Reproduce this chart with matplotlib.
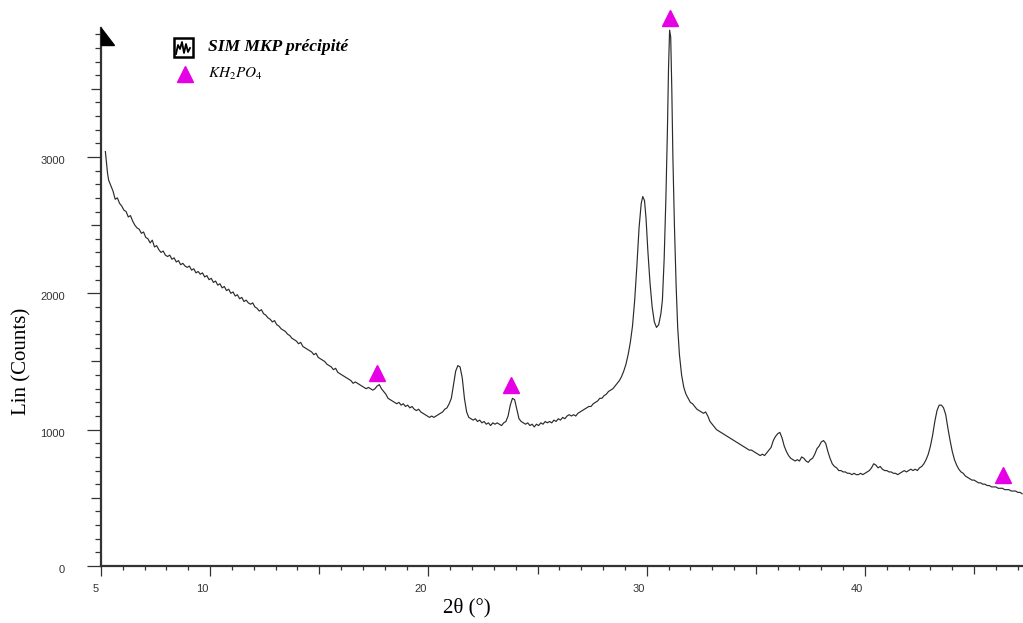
import matplotlib
matplotlib.use("Agg")
import matplotlib.pyplot as plt
from matplotlib.patches import Polygon, Rectangle
from matplotlib.lines import Line2D
from matplotlib.transforms import ScaledTranslation

plt.rcParams["mathtext.fontset"] = "stix"

# XRD pattern: 2theta (deg)
two_theta = [
    5.20, 5.25, 5.30, 5.35, 5.45, 5.55, 5.65, 5.75, 5.85, 5.95, 6.05, 6.15,
    6.25, 6.35, 6.45, 6.55, 6.65, 6.75, 6.85, 6.95, 7.05, 7.15, 7.25, 7.35,
    7.45, 7.55, 7.65, 7.75, 7.85, 7.95, 8.05, 8.15, 8.25, 8.35, 8.45, 8.55,
    8.65, 8.75, 8.85, 8.95, 9.05, 9.15, 9.25, 9.35, 9.45, 9.55, 9.65, 9.75,
    9.85, 9.95, 10.05, 10.15, 10.25, 10.35, 10.45, 10.55, 10.65, 10.75,
    10.85, 10.95, 11.05, 11.15, 11.25, 11.35, 11.45, 11.55, 11.65, 11.75,
    11.85, 11.95, 12.05, 12.15, 12.25, 12.35, 12.45, 12.55, 12.65, 12.75,
    12.85, 12.95, 13.05, 13.15, 13.25, 13.35, 13.45, 13.55, 13.65, 13.75,
    13.85, 13.95, 14.05, 14.15, 14.25, 14.35, 14.45, 14.55, 14.65, 14.75,
    14.85, 14.95, 15.05, 15.15, 15.25, 15.35, 15.45, 15.55, 15.65, 15.75,
    15.85, 15.95, 16.05, 16.15, 16.25, 16.35, 16.45, 16.55, 16.65, 16.75,
    16.85, 16.95, 17.05, 17.15, 17.25, 17.35, 17.45, 17.55, 17.65, 17.75,
    17.85, 17.95, 18.05, 18.15, 18.25, 18.35, 18.45, 18.55, 18.65, 18.75,
    18.85, 18.95, 19.05, 19.15, 19.25, 19.35, 19.45, 19.55, 19.65, 19.75,
    19.85, 19.95, 20.05, 20.15, 20.25, 20.35, 20.45, 20.55, 20.65, 20.75,
    20.85, 20.95, 21.05, 21.15, 21.25, 21.35, 21.45, 21.55, 21.65, 21.75,
    21.85, 21.95, 22.05, 22.15, 22.25, 22.35, 22.45, 22.55, 22.65, 22.75,
    22.85, 22.95, 23.05, 23.15, 23.25, 23.35, 23.45, 23.55, 23.65, 23.75,
    23.85, 23.95, 24.05, 24.15, 24.25, 24.35, 24.45, 24.55, 24.65, 24.75,
    24.85, 24.95, 25.05, 25.15, 25.25, 25.35, 25.45, 25.55, 25.65, 25.75,
    25.85, 25.95, 26.05, 26.15, 26.25, 26.35, 26.45, 26.55, 26.65, 26.75,
    26.85, 26.95, 27.05, 27.15, 27.25, 27.35, 27.45, 27.55, 27.65, 27.75,
    27.85, 27.95, 28.05, 28.15, 28.25, 28.35, 28.45, 28.55, 28.65, 28.75,
    28.85, 28.95, 29.05, 29.15, 29.25, 29.35, 29.45, 29.55, 29.65, 29.75,
    29.82, 29.90, 29.97, 30.05, 30.15, 30.25, 30.35, 30.45, 30.55, 30.65,
    30.72, 30.80, 30.88, 30.95, 31.00, 31.05, 31.10, 31.15, 31.20, 31.27,
    31.35, 31.42, 31.50, 31.60, 31.70, 31.80, 31.90, 32.00, 32.10, 32.20,
    32.30, 32.40, 32.50, 32.60, 32.70, 32.80, 32.90, 33.00, 33.10, 33.20,
    33.30, 33.40, 33.50, 33.60, 33.70, 33.80, 33.90, 34.00, 34.10, 34.20,
    34.30, 34.40, 34.50, 34.60, 34.70, 34.80, 34.90, 35.00, 35.10, 35.20,
    35.30, 35.40, 35.50, 35.60, 35.70, 35.80, 35.90, 36.00, 36.10, 36.20,
    36.30, 36.40, 36.50, 36.60, 36.70, 36.80, 36.90, 37.00, 37.10, 37.20,
    37.30, 37.40, 37.50, 37.60, 37.70, 37.80, 37.90, 38.00, 38.10, 38.20,
    38.30, 38.40, 38.50, 38.60, 38.70, 38.80, 38.90, 39.00, 39.10, 39.20,
    39.30, 39.40, 39.50, 39.60, 39.70, 39.80, 39.90, 40.00, 40.10, 40.20,
    40.30, 40.40, 40.50, 40.60, 40.70, 40.80, 40.90, 41.00, 41.10, 41.20,
    41.30, 41.40, 41.50, 41.60, 41.70, 41.80, 41.90, 42.00, 42.10, 42.20,
    42.30, 42.40, 42.50, 42.60, 42.70, 42.80, 42.90, 43.00, 43.10, 43.20,
    43.30, 43.40, 43.50, 43.60, 43.70, 43.80, 43.90, 44.00, 44.10, 44.20,
    44.30, 44.40, 44.50, 44.60, 44.70, 44.80, 44.90, 45.00, 45.10, 45.20,
    45.30, 45.40, 45.50, 45.60, 45.70, 45.80, 45.90, 46.00, 46.10, 46.20,
    46.30, 46.40, 46.50, 46.60, 46.70, 46.80, 46.90, 47.00, 47.10, 47.20,
]
# intensity, Lin (Counts)
counts = [
    3040, 2960, 2880, 2830, 2790, 2750, 2690, 2700, 2660, 2640, 2610, 2600,
    2560, 2570, 2530, 2500, 2480, 2470, 2440, 2450, 2410, 2400, 2370, 2390,
    2340, 2350, 2320, 2300, 2310, 2280, 2270, 2280, 2250, 2260, 2230, 2240,
    2210, 2220, 2200, 2190, 2200, 2170, 2180, 2150, 2160, 2140, 2150, 2120,
    2130, 2100, 2110, 2080, 2090, 2060, 2070, 2040, 2050, 2020,
    2030, 2000, 2010, 1980, 1990, 1960, 1970, 1940, 1950, 1930,
    1920, 1930, 1900, 1890, 1870, 1880, 1850, 1840, 1820, 1810,
    1790, 1800, 1770, 1760, 1740, 1730, 1720, 1700, 1690, 1670,
    1660, 1650, 1630, 1640, 1610, 1600, 1590, 1580, 1570, 1550,
    1560, 1530, 1520, 1510, 1500, 1480, 1470, 1460, 1440, 1450,
    1420, 1410, 1400, 1390, 1380, 1370, 1360, 1340, 1350, 1340,
    1330, 1320, 1310, 1300, 1310, 1300, 1290, 1300, 1320, 1330,
    1300, 1280, 1260, 1230, 1220, 1210, 1200, 1190, 1200, 1180,
    1190, 1170, 1180, 1160, 1170, 1150, 1140, 1150, 1130, 1120,
    1110, 1100, 1090, 1100, 1090, 1100, 1110, 1120, 1130, 1150,
    1160, 1190, 1230, 1330, 1430, 1470, 1460, 1380, 1230, 1130,
    1090, 1080, 1070, 1080, 1060, 1070, 1050, 1060, 1040, 1050,
    1030, 1050, 1040, 1050, 1040, 1030, 1050, 1060, 1100, 1180,
    1230, 1220, 1150, 1080, 1060, 1050, 1040, 1050, 1030, 1040,
    1020, 1040, 1030, 1050, 1040, 1060, 1050, 1060, 1050, 1070,
    1060, 1080, 1070, 1090, 1080, 1100, 1110, 1100, 1110, 1100,
    1120, 1130, 1140, 1150, 1160, 1170, 1170, 1190, 1200, 1210,
    1230, 1230, 1250, 1260, 1280, 1290, 1300, 1320, 1340, 1360,
    1390, 1430, 1480, 1550, 1640, 1760, 1950, 2200, 2480, 2660,
    2710, 2680, 2550, 2320, 2080, 1900, 1790, 1750, 1770, 1850,
    1950, 2250, 2700, 3200, 3650, 3930, 3880, 3500, 3000, 2500,
    2050, 1750, 1550, 1400, 1310, 1260, 1230, 1200, 1190, 1170,
    1150, 1140, 1130, 1120, 1130, 1100, 1060, 1040, 1020, 1000,
    990, 980, 970, 960, 950, 940, 930, 920, 910, 900,
    890, 880, 870, 860, 850, 850, 840, 830, 820, 810,
    820, 810, 830, 850, 870, 920, 950, 970, 980, 940,
    880, 840, 810, 790, 780, 770, 780, 770, 800, 790,
    770, 760, 780, 790, 820, 860, 880, 910, 920, 900,
    840, 790, 750, 730, 720, 700, 700, 690, 690, 680,
    680, 670, 680, 670, 670, 680, 670, 680, 690, 700,
    720, 750, 740, 720, 730, 710, 700, 700, 690, 690,
    680, 680, 670, 680, 690, 700, 690, 700, 710, 700,
    710, 700, 720, 730, 750, 780, 820, 880, 960, 1060,
    1140, 1180, 1180, 1160, 1110, 1010, 920, 840, 780, 740,
    710, 690, 680, 660, 650, 640, 630, 630, 620, 610,
    610, 600, 600, 590, 590, 580, 580, 580, 570, 570,
    570, 560, 560, 560, 550, 550, 550, 540, 540, 530,
]

# KH2PO4 reference reflections
peak_theta = [17.64, 23.78, 31.07, 46.32]
peak_marker_y = [1416, 1331, 4023, 664]

xticks = [5, 10, 15, 20, 25, 30, 35, 40, 45]
xtick_labels = ["5", "10", "", "20", "", "30", "", "40", ""]
yticks = [0, 500, 1000, 1500, 2000, 2500, 3000, 3500]
ytick_labels = ["0", "", "1000", "", "2000", "", "3000", ""]

MAGENTA = "#e600e6"
AXIS = "#333333"

fig = plt.figure(figsize=(10.23, 6.23), dpi=100)
ax = fig.add_axes([101 / 1023, 57 / 623, 922 / 1023, 538 / 623])

ax.plot(two_theta, counts, color="#2b2b2b", lw=0.85)
ax.plot(peak_theta, peak_marker_y, ls="none", marker="^", ms=11,
        color=MAGENTA, clip_on=False, zorder=5)

ax.set_xlim(5, 47.24)
ax.set_ylim(0, 3946)
for side in ("top", "right"):
    ax.spines[side].set_visible(False)
for side in ("left", "bottom"):
    ax.spines[side].set_color(AXIS)
    ax.spines[side].set_linewidth(1.6)

ax.set_xticks(xticks)
ax.set_xticklabels(xtick_labels, fontsize=8, family="Liberation Sans",
                   color="#333333")
ax.set_xticks([v for v in range(5, 48) if v % 5], minor=True)
ax.set_yticks(yticks)
ax.set_yticklabels(ytick_labels, fontsize=8, family="Liberation Sans",
                   color="#333333")
ax.set_yticks([v for v in range(0, 3901, 100) if v % 500], minor=True)

ax.tick_params(axis="x", which="major", length=7.2, width=0.9, color=AXIS,
               pad=6)
ax.tick_params(axis="x", which="minor", length=3.2, width=0.9, color=AXIS)
ax.tick_params(axis="y", which="major", length=10, width=0.9, color=AXIS,
               pad=16)
ax.tick_params(axis="y", which="minor", length=4.3, width=0.9, color=AXIS)

for value, tick in zip(xticks, ax.xaxis.get_major_ticks()):
    if value % 10 and value != 5:
        tick.tick1line.set_markersize(5.8)
for value, tick in zip(yticks, ax.yaxis.get_major_ticks()):
    if value % 1000:
        tick.tick1line.set_markersize(7.2)

for label in ax.get_xticklabels():
    label.set_ha("right")
    label.set_transform(label.get_transform()
                        + ScaledTranslation(-0.02, 0, fig.dpi_scale_trans))
for label in ax.get_yticklabels():
    label.set_transform(label.get_transform()
                        + ScaledTranslation(0, -0.03, fig.dpi_scale_trans))

fig.text(22 / 1023, 1 - 361 / 623, "Lin (Counts)", rotation=90,
         ha="center", va="center", fontsize=15, family="Liberation Serif")
fig.text(467 / 1023, 1 - 608 / 623, "2θ (°)", ha="center", va="center",
         fontsize=15, family="Liberation Serif")

# arrow head on top of the y axis
fig.patches.append(Polygon(
    [(101 / 1023, 1 - 28 / 623), (101 / 1023, 1 - 45 / 623),
     (114 / 1023, 1 - 45 / 623)],
    closed=True, transform=fig.transFigure, color="black"))

# legend
fig.patches.append(Rectangle((174 / 1023, 1 - 57 / 623), 19 / 1023, 19 / 623,
                             transform=fig.transFigure, fill=False,
                             ec="black", lw=1.8))
zig_x = [176, 178, 180, 182, 184, 186, 188, 190]
zig_y = [54, 45, 49, 42, 53, 44, 52, 48]
fig.lines.append(Line2D([v / 1023 for v in zig_x], [1 - v / 623 for v in zig_y],
                        transform=fig.transFigure, color="black", lw=1.3))
fig.text(208 / 1023, 1 - 47 / 623, "SIM MKP précipité", ha="left",
         va="center", fontsize=12.6, fontweight="bold", fontstyle="italic",
         family="Liberation Serif")
fig.lines.append(Line2D([185 / 1023], [1 - 74 / 623], ls="none", marker="^",
                        ms=11, color=MAGENTA, transform=fig.transFigure))
fig.text(208 / 1023, 1 - 74 / 623, r"$KH_2PO_4$", ha="left", va="center",
         fontsize=11)

fig.savefig("out.png", dpi=100)
